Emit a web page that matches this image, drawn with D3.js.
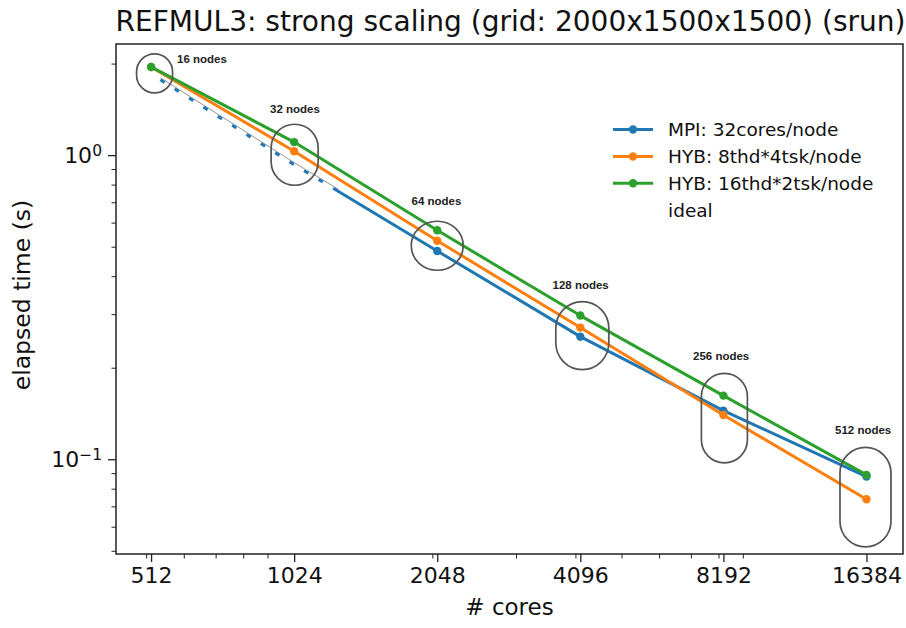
<!DOCTYPE html>
<html><head><meta charset="utf-8">
<script src="https://cdn.jsdelivr.net/npm/d3@7"></script>
<style>body{margin:0;background:#fff}svg{display:block}</style>
</head><body><svg id="c" width="906" height="628"></svg>
<script>
const cores = [512, 1024, 2048, 4096, 8192, 16384];
const mpi = [1.85, 0.93, 0.484, 0.253, 0.1445, 0.0877];
const hyb8x4 = [1.95, 1.03, 0.523, 0.271, 0.1398, 0.0739];
const hyb16x2 = [1.95, 1.104, 0.566, 0.2968, 0.1619, 0.0888];
const seriesNames = ["MPI: 32cores/node", "HYB: 8thd*4tsk/node", "HYB: 16thd*2tsk/node", "ideal"];
const nodeLabels = ["16 nodes", "32 nodes", "64 nodes", "128 nodes", "256 nodes", "512 nodes"];
const xMinor = [500, 600, 700, 800, 900, 2000, 3000, 4000, 5000, 6000, 7000, 8000, 9000];
const yMajor = [0.1, 1];
const yMinor = [0.05, 0.06, 0.07, 0.08, 0.09, 0.2, 0.3, 0.4, 0.5, 0.6, 0.7, 0.8, 0.9, 2];
const title = "REFMUL3: strong scaling (grid: 2000x1500x1500) (srun)";

const colors = ["#1f77b4", "#ff7f0e", "#2ca02c"];
const svg = d3.select("#c");
const L = 116, R = 903, T = 44, B = 554;
const x = d3.scaleLog().domain([432, 19555]).range([L, R]);
const y = d3.scaleLog().domain([0.0488, 2.32]).range([B, T]);
const font = "DejaVu Sans, sans-serif";

// title
svg.append("text").attr("x", (L + R) / 2 + 1).attr("y", 31).attr("text-anchor", "middle")
  .attr("font-family", font).attr("font-size", 28).attr("fill", "#111")
  .attr("textLength", 790).attr("lengthAdjust", "spacingAndGlyphs").text(title);

// axes
const xAxis = d3.axisBottom(x).tickValues(cores).tickFormat(d3.format("d")).tickSize(8).tickPadding(5);
const gx = svg.append("g").attr("transform", `translate(0,${B})`).call(xAxis);
gx.select(".domain").remove();
gx.selectAll("text").attr("font-family", font).attr("font-size", 22).attr("fill", "#111");
gx.selectAll("line").attr("stroke", "#222").attr("stroke-width", 1.3);
const gxm = svg.append("g").attr("transform", `translate(0,${B})`)
  .call(d3.axisBottom(x).tickValues(xMinor).tickFormat("").tickSize(4.5));
gxm.select(".domain").remove();
gxm.selectAll("line").attr("stroke", "#222").attr("stroke-width", 1);

const yAxis = d3.axisLeft(y).tickValues(yMajor).tickFormat("").tickSize(8);
const gy = svg.append("g").attr("transform", `translate(${L},0)`).call(yAxis);
gy.select(".domain").remove();
gy.selectAll("line").attr("stroke", "#222").attr("stroke-width", 1.3);
gy.selectAll(".tick").each(function(d) {
  const t = d3.select(this).append("text").attr("x", -14).attr("dy", "0.32em")
    .attr("text-anchor", "end").attr("font-family", font).attr("font-size", 22).attr("fill", "#111");
  const e = Math.round(Math.log10(d));
  t.append("tspan").text("10");
  t.append("tspan").attr("dy", "-0.45em").attr("font-size", 15.5).text(e < 0 ? "\u2212" + (-e) : String(e));
});
const gym = svg.append("g").attr("transform", `translate(${L},0)`)
  .call(d3.axisLeft(y).tickValues(yMinor).tickFormat("").tickSize(4.5));
gym.select(".domain").remove();
gym.selectAll("line").attr("stroke", "#222").attr("stroke-width", 1);

// frame
svg.append("rect").attr("x", L).attr("y", T).attr("width", R - L).attr("height", B - T)
  .attr("fill", "none").attr("stroke", "#222").attr("stroke-width", 1.5);

// axis labels
svg.append("text").attr("x", (L + R) / 2).attr("y", 615).attr("text-anchor", "middle")
  .attr("font-family", font).attr("font-size", 23).attr("fill", "#111").text("# cores");
svg.append("text").attr("transform", `translate(30,${(T + B) / 2 - 4}) rotate(-90)`).attr("text-anchor", "middle")
  .attr("font-family", font).attr("font-size", 23.5).attr("fill", "#111").text("elapsed time (s)");

// series
const series = [mpi, hyb8x4, hyb16x2];
const line = d3.line().x((d, i) => x(cores[i])).y(d => y(d));
const plot = svg.append("g");
series.forEach((vals, s) => {
  let pts = vals.map((v, i) => [cores[i], v]);
  if (s === 0) {
    // thin dark trace that accompanies the dashed early part in the reference
    plot.append("path").attr("d", line(vals)).attr("transform", "translate(1,-1.5)")
      .attr("fill", "none").attr("stroke", "#777").attr("stroke-width", 0.8)
      .attr("stroke-dasharray", "0,10,210,3000");
  }
  const p = plot.append("path").attr("d", line(vals))
    .attr("fill", "none").attr("stroke", colors[s]).attr("stroke-width", 3).attr("stroke-linejoin", "round");
  if (s === 0) {
    const dash = ["0", "11"];
    for (let k = 0; k < 12; k++) dash.push("5", "12");
    dash.push("3000");
    p.attr("stroke-dasharray", dash.join(","));
    pts = pts.slice(2);
  }
  plot.selectAll(null).data(pts).enter().append("circle")
    .attr("cx", d => x(d[0])).attr("cy", d => y(d[1])).attr("r", 4.2).attr("fill", colors[s]);
});

// annotation ovals (anchored on a data point, offset in px)
const anchor = [hyb16x2[0], hyb8x4[1], hyb8x4[2], hyb8x4[3], mpi[4], mpi[5]];
const ovals = [[3.5, 6.5, 18, 19.5], [0.5, 3.5, 23.5, 30.5], [0, 5, 26, 24.5], [2, 8, 26.5, 34], [1, 7.5, 23, 44.7], [-1, 20.5, 25.5, 49.7]];
const ann = svg.append("g");
cores.forEach((c, i) => {
  const [dx, dy, rx, ry] = ovals[i];
  const cx = x(c) + dx, cy = y(anchor[i]) + dy;
  ann.append("rect").attr("x", cx - rx).attr("y", cy - ry).attr("width", 2 * rx).attr("height", 2 * ry)
    .attr("rx", rx).attr("ry", Math.min(rx, ry)).attr("fill", "none").attr("stroke", "#555").attr("stroke-width", 1.7);
});
const labelPos = [[177, 63], [270, 112.5], [411.5, 205], [552.5, 289], [693, 360], [835, 434]];
nodeLabels.forEach((t, i) => {
  ann.append("text").attr("x", labelPos[i][0]).attr("y", labelPos[i][1])
    .attr("font-family", "Liberation Sans, Arial, sans-serif").attr("font-weight", "bold")
    .attr("font-size", 11.5).attr("fill", "#222").text(t);
});

// legend
const lg = svg.append("g");
const rows = [129.5, 156.5, 183.3, 210];
seriesNames.forEach((n, i) => {
  if (i < 3) {
    lg.append("line").attr("x1", 613).attr("x2", 653).attr("y1", rows[i]).attr("y2", rows[i])
      .attr("stroke", colors[i]).attr("stroke-width", 3);
    lg.append("circle").attr("cx", 633).attr("cy", rows[i]).attr("r", 4.2).attr("fill", colors[i]);
  }
  lg.append("text").attr("x", 668).attr("y", rows[i]).attr("dy", "0.36em")
    .attr("font-family", font).attr("font-size", 18.5).attr("fill", "#111").text(n);
});
</script></body></html>
